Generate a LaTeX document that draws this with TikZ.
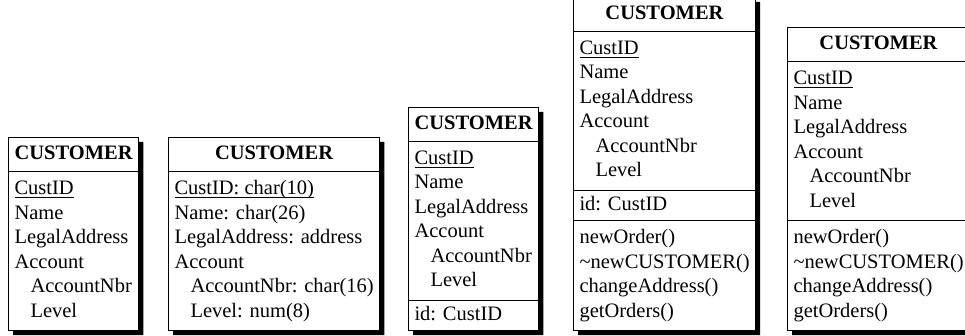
\documentclass[tikz,border=0pt]{standalone}
\usepackage{fontspec}
\setmainfont{Liberation Serif}
\usetikzlibrary{positioning, shapes.multipart, shadows}
\newcommand{\subattr}[1]{\hspace*{16pt}#1}
\newcommand{\keyattr}[1]{\setbox0\hbox{#1}\rlap{\rule[-3pt]{\wd0}{0.9pt}}\box0}
\newcommand{\titlestrut}{\rule[-6pt]{0pt}{22pt}}
\newcommand{\idstrut}{\rule[-4pt]{0pt}{18pt}}

\begin{document}
\begin{tikzpicture}[x=1pt, y=-1pt,
  entity/.style={rectangle split, rectangle split parts=#1,
                 draw=black, line width=1pt, fill=white,
                 font=\fontsize{20.5}{24.5}\selectfont, align=left,
                 inner xsep=6pt, inner ysep=5.5pt,
                 rectangle split part align={center,left,left,left},
                 drop shadow={shadow xshift=4.5pt, shadow yshift=-4.5pt,
                              fill=black, opacity=1},
                 anchor=south west}
]
\useasboundingbox (0,0) rectangle (965,336);

% plain entity
\node[entity=2] (plain) at (8,331) {\titlestrut\textbf{CUSTOMER}
  \nodepart{two}\strut\keyattr{CustID}\\ Name\\ LegalAddress\\ Account\\
  \subattr{AccountNbr}\\ \subattr{Level}\strut};

% with types
\node[entity=2] (typed) at (168,331) {\titlestrut\textbf{CUSTOMER}
  \nodepart{two}\strut\keyattr{CustID: char(10)}\\ Name: char(26)\\
  LegalAddress: address\\ Account\\
  \subattr{AccountNbr: char(16)}\\ \subattr{Level: num(8)}\strut};

% with identifier
\node[entity=3] (ident) at (408,331) {\titlestrut\textbf{CUSTOMER}
  \nodepart{two}\strut\keyattr{CustID}\\ Name\\ LegalAddress\\ Account\\
  \subattr{AccountNbr}\\ \subattr{Level}\strut
  \nodepart{three}\idstrut id: CustID};

% with identifier and methods
\node[entity=4] (full) at (573,331) {\titlestrut\textbf{CUSTOMER}
  \nodepart{two}\strut\keyattr{CustID}\\ Name\\ LegalAddress\\ Account\\
  \subattr{AccountNbr}\\ \subattr{Level}\strut
  \nodepart{three}\idstrut id: CustID
  \nodepart{four}\strut newOrder()\\ \textasciitilde newCUSTOMER()\\
  changeAddress()\\ getOrders()\strut};

% with methods
\node[entity=3] (meth) at (787,331) {\titlestrut\textbf{CUSTOMER}
  \nodepart{two}\strut\keyattr{CustID}\\ Name\\ LegalAddress\\ Account\\
  \subattr{AccountNbr}\\ \subattr{Level}\strut
  \nodepart{three}\strut newOrder()\\ \textasciitilde newCUSTOMER()\\
  changeAddress()\\ getOrders()\strut};
\end{tikzpicture}
\end{document}
